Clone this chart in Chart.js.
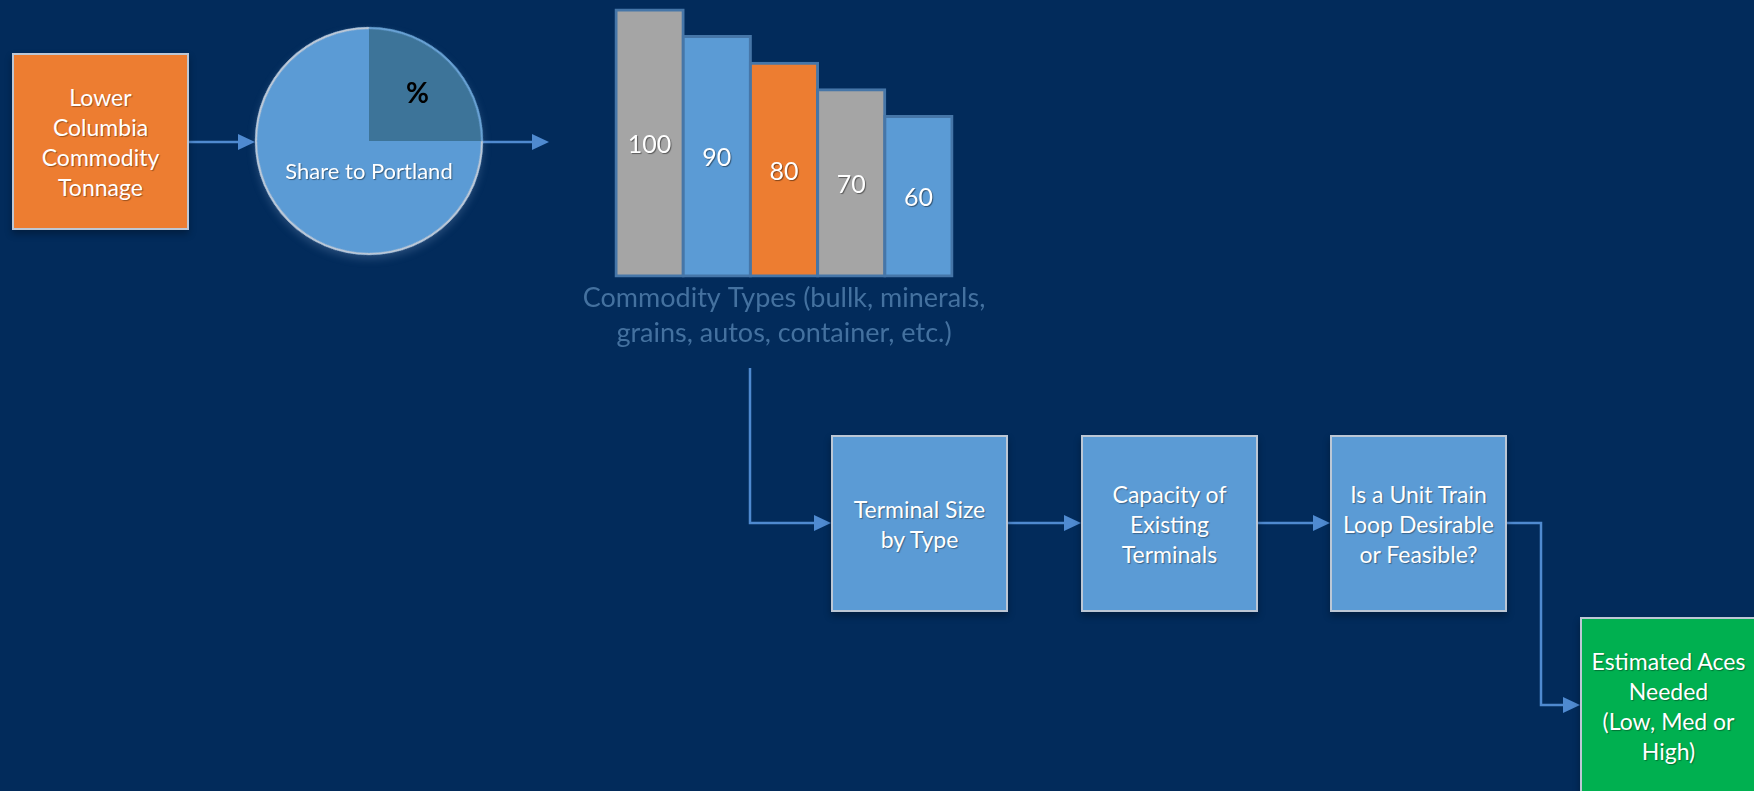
<!DOCTYPE html>
<html>
<head>
<meta charset="utf-8">
<script src="https://cdn.jsdelivr.net/npm/chart.js@4.4.1/dist/chart.umd.min.js"></script>
<style>
  html, body { margin: 0; padding: 0; }
  body { width: 1754px; height: 791px; overflow: hidden; background: #022b5b; position: relative; font-family: 'Lato', 'Open Sans', sans-serif; }
  .box { position: absolute; box-sizing: border-box; width: 177px; height: 177px; border: 2px solid #bcc7d5;
         display: flex; align-items: center; justify-content: center; text-align: center; color: #fff;
         font-size: 23px; line-height: 30px; text-shadow: 1px 1px 1px rgba(0,0,0,0.35);
         box-shadow: 0 4px 7px rgba(0,0,0,0.3); }
  .blue { background: #5b9bd5; }
  .orange { background: #ed7d31; }
  .green { background: #00b050; }
  .wrap { position: absolute; }
  #arrows { position: absolute; left: 0; top: 0; }
  #ring { position: absolute; left: 255px; top: 27px; width: 228px; height: 228px; box-sizing: border-box;
          border-radius: 50%; border: 2px solid #c2cad6; border-top-color: #6aa3d8; transform: rotate(45deg);
          pointer-events: none; }
  #pieglow { position: absolute; left: 255px; top: 27px; width: 228px; height: 228px; border-radius: 50%;
             box-shadow: 0 4px 8px rgba(150,180,220,0.25); }
</style>
</head>
<body>
<script>
// ---- data ----
const pieLabels = ['%', 'Share to Portland'];
const pieValues = [25, 75];
const barCategories = ['Bulk', 'Minerals', 'Grains', 'Autos', 'Container'];
const barValues = [100, 90, 80, 70, 60];
const barAxisTitle = ['Commodity Types (bullk, minerals,', 'grains, autos, container, etc.)'];
const flowSteps = ['Lower<br>Columbia<br>Commodity<br>Tonnage', 'Terminal Size<br>by Type', 'Capacity of<br>Existing<br>Terminals', 'Is a Unit Train<br>Loop Desirable<br>or Feasible?', 'Estimated Aces<br>Needed<br>(Low, Med or<br>High)'];
</script>

<svg id="arrows" width="1754" height="791">
  <g stroke="#4f8ad0" stroke-width="2.5" fill="none">
    <polyline points="189,142 240,142"/>
    <polyline points="482,142 534,142"/>
    <polyline points="750,368 750,523 816,523"/>
    <polyline points="1008,523 1066,523"/>
    <polyline points="1258,523 1315,523"/>
    <polyline points="1507,523 1541,523 1541,705 1565,705"/>
  </g>
  <g fill="#4f8ad0">
    <polygon points="238,134 255,142 238,150"/>
    <polygon points="532,134 549,142 532,150"/>
    <polygon points="814,515 831,523 814,531"/>
    <polygon points="1064,515 1081,523 1064,531"/>
    <polygon points="1313,515 1330,523 1313,531"/>
    <polygon points="1563,697 1580,705 1563,713"/>
  </g>
</svg>

<div class="box orange" id="b0" style="left:12px; top:53px;"></div>
<div class="box blue" id="b1" style="left:831px; top:435px;"></div>
<div class="box blue" id="b2" style="left:1081px; top:435px;"></div>
<div class="box blue" id="b3" style="left:1330px; top:435px;"></div>
<div class="box green" id="b4" style="left:1580px; top:617px;"></div>

<div id="pieglow"></div>
<div class="wrap" style="left:255px; top:27px; width:228px; height:228px;"><canvas id="pie"></canvas></div>
<div id="ring"></div>

<div class="wrap" style="left:566px; top:6px; width:436px; height:345px;"><canvas id="bars"></canvas></div>

<script>
flowSteps.forEach((t, i) => { document.getElementById('b' + i).innerHTML = '<div>' + t + '</div>'; });

Chart.defaults.font.family = "'Lato', 'Open Sans', sans-serif";

const pieLabelPlugin = {
  id: 'pieLabels',
  afterDatasetsDraw(chart) {
    const ctx = chart.ctx;
    const arcs = chart.getDatasetMeta(0).data;
    ctx.save();
    const a = arcs[0];
    const mid = (a.startAngle + a.endAngle) / 2;
    const r = a.outerRadius * 0.6;
    ctx.font = "bold 28px 'Lato', sans-serif";
    ctx.fillStyle = '#000';
    ctx.textAlign = 'center';
    ctx.textBaseline = 'middle';
    ctx.fillText(chart.data.labels[0], a.x + Math.cos(mid) * r, a.y + Math.sin(mid) * r + 1);
    const b = arcs[1];
    ctx.font = "22px 'Lato', sans-serif";
    ctx.fillStyle = '#fff';
    ctx.shadowColor = 'rgba(0,0,0,0.4)';
    ctx.shadowOffsetX = 1; ctx.shadowOffsetY = 1; ctx.shadowBlur = 1;
    ctx.fillText(chart.data.labels[1], b.x, b.y + b.outerRadius * 0.27);
    ctx.restore();
  }
};

new Chart(document.getElementById('pie'), {
  type: 'pie',
  data: { labels: pieLabels, datasets: [{ data: pieValues, backgroundColor: ['#3d7499', '#5b9bd5'], borderWidth: 0 }] },
  options: {
    responsive: true, maintainAspectRatio: false, animation: false, devicePixelRatio: 1,
    layout: { padding: 0 },
    plugins: { legend: { display: false }, tooltip: { enabled: false } }
  },
  plugins: [pieLabelPlugin]
});

const barLabelPlugin = {
  id: 'barLabels',
  afterDatasetsDraw(chart) {
    const ctx = chart.ctx;
    const meta = chart.getDatasetMeta(0);
    const area = chart.chartArea;
    ctx.save();
    ctx.font = "25px 'Lato', sans-serif";
    ctx.fillStyle = '#fff';
    ctx.textAlign = 'center';
    ctx.textBaseline = 'middle';
    ctx.shadowColor = 'rgba(0,0,0,0.45)';
    ctx.shadowOffsetX = 1; ctx.shadowOffsetY = 1; ctx.shadowBlur = 1;
    meta.data.forEach((el, i) => {
      const v = chart.data.datasets[0].data[i];
      ctx.fillText(String(v), el.x, (el.y + el.base) / 2 + 2);
    });
    // axis title under the bars
    ctx.shadowColor = 'transparent';
    ctx.font = "27px 'Lato', sans-serif";
    ctx.fillStyle = '#44719f';
    const cx = (area.left + area.right) / 2;
    barAxisTitle.forEach((line, i) => {
      ctx.fillText(line, cx, area.bottom + 22 + i * 35);
    });
    ctx.restore();
  }
};

new Chart(document.getElementById('bars'), {
  type: 'bar',
  data: { labels: barCategories, datasets: [{
    data: barValues,
    backgroundColor: ['#a5a5a5', '#5b9bd5', '#ed7d31', '#a5a5a5', '#5b9bd5'],
    borderColor: '#4676a8', borderWidth: 3, borderSkipped: false, inflateAmount: 1.5,
    categoryPercentage: 1, barPercentage: 1, clip: false
  }] },
  options: {
    responsive: true, maintainAspectRatio: false, animation: false, devicePixelRatio: 1,
    layout: { padding: { left: 50, right: 50, top: 4, bottom: 75 } },
    plugins: { legend: { display: false }, tooltip: { enabled: false } },
    scales: {
      x: { display: false },
      y: { display: false, min: 0, max: 100 }
    }
  },
  plugins: [barLabelPlugin]
});
</script>
</body>
</html>
